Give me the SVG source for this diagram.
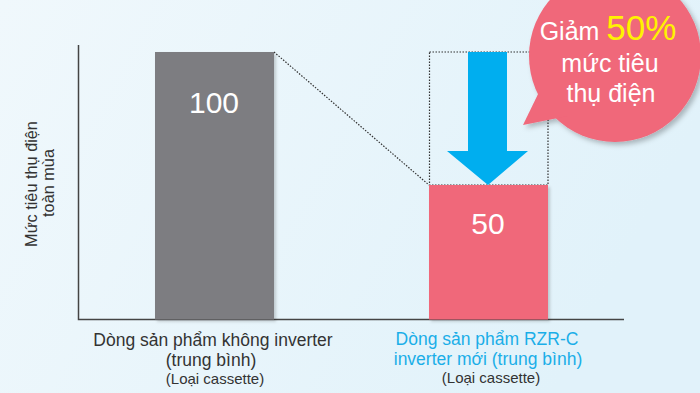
<svg xmlns="http://www.w3.org/2000/svg" width="700" height="393" viewBox="0 0 700 393">
<defs>
<linearGradient id="bg" x1="0" y1="0" x2="1" y2="0.3">
<stop offset="0" stop-color="#f0f8fc"/>
<stop offset="1" stop-color="#e1f2fa"/>
</linearGradient>
<filter id="sh" x="-20%" y="-20%" width="140%" height="140%">
<feDropShadow dx="2" dy="2" stdDeviation="1.5" flood-color="#000" flood-opacity="0.18"/>
</filter>
<filter id="bsh" x="-20%" y="-20%" width="140%" height="140%">
<feDropShadow dx="3" dy="3" stdDeviation="2.5" flood-color="#000" flood-opacity="0.25"/>
</filter>
<style>
text{font-family:"Liberation Sans",Arial,sans-serif}
.axis{stroke:#444;stroke-width:1.5;fill:none}
.dot{stroke:#333;stroke-width:1.2;stroke-dasharray:1.5 1.5;fill:none}
.val{fill:#fff;font-size:30px;text-anchor:middle}
.lbl{fill:#333;font-size:17.5px;text-anchor:middle}
.blue{fill:#1aaee8}
.sub{fill:#333;font-size:15px;text-anchor:middle}
.bub{fill:#fff;font-size:25px;text-anchor:middle}
.ylab{fill:#333;font-size:16.3px;text-anchor:middle}
</style>
</defs>
<rect width="700" height="393" fill="url(#bg)"/>
<g id="axes">
<path class="axis" d="M78.5 45 V319.5 H624"/>
</g>
<g id="ylabel">
<text class="ylab" transform="translate(37 184) rotate(-90)">Mức tiêu thụ điện</text>
<text class="ylab" transform="translate(54 183) rotate(-90)">toàn mùa</text>
</g>
<g id="connectors">
<line class="dot" x1="274" y1="52" x2="429" y2="185"/>
<rect class="dot" x="429.5" y="52" width="118.5" height="133"/>
</g>
<g id="bar-old">
<rect x="155" y="52" width="119" height="267.5" fill="#7d7d81" filter="url(#sh)"/>
<text class="val" x="214" y="113">100</text>
</g>
<g id="bar-new">
<rect x="429" y="185" width="119" height="134.5" fill="#f0677a" filter="url(#sh)"/>
<text class="val" x="488" y="234">50</text>
</g>
<g id="arrow">
<polygon points="468,52 507,52 507,151 528,151 488,185 447,151 468,151" fill="#00aeef"/>
</g>
<g id="bubble">
<g filter="url(#bsh)" fill="#f0677a">
<circle cx="615" cy="56" r="86"/>
<polygon points="540,90 523,125 568,116"/>
</g>
<text class="bub" x="608" y="40">Giảm <tspan fill="#fff200" font-size="35">50%</tspan></text>
<text class="bub" x="610" y="72">mức tiêu</text>
<text class="bub" x="611" y="102">thụ điện</text>
</g>
<g id="label-old">
<text class="lbl" x="213" y="346">Dòng sản phẩm không inverter</text>
<text class="lbl" x="211" y="366">(trung bình)</text>
<text class="sub" x="215" y="384">(Loại cassette)</text>
</g>
<g id="label-new">
<text class="lbl blue" x="487" y="345">Dòng sản phẩm RZR-C</text>
<text class="lbl blue" x="488" y="365">inverter mới (trung bình)</text>
<text class="sub" x="491" y="383">(Loại cassette)</text>
</g>
</svg>
